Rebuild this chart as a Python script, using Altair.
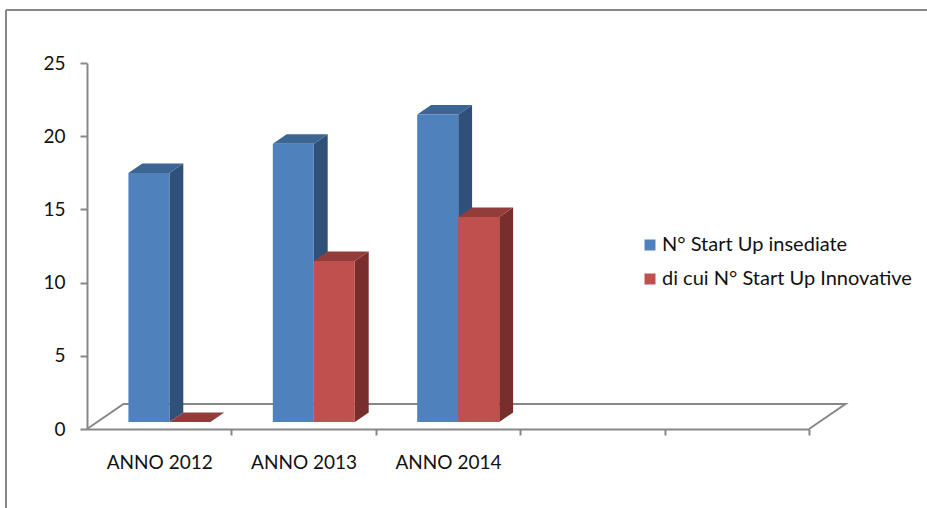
import json

import altair as alt
import pandas as pd

# ---- data -------------------------------------------------------------
categories = ["ANNO 2012", "ANNO 2013", "ANNO 2014"]
series = ["N° Start Up insediate", "\u00a0di cui N° Start Up Innovative"]
insediate = [17, 19, 21]
innovative = [0, 11, 14]
y_ticks = [0, 5, 10, 15, 20, 25]
n_slots = 5  # category slots on the floor (the last two are empty)

# ---- layout -----------------------------------------------------------
CANVAS_W, CANVAS_H = 927, 508
LEFT, TOP = 87, 63
W, H = 722, 366
Y_MAX = 25
PX_X = W / n_slots  # pixels per category slot
PX_Y = H / Y_MAX    # pixels per value unit

GRAY = "#878787"
FONT = "Lato"
TEXT = "#111111"
front_colors = ["#4F81BD", "#C0504D"]
side_colors = ["#2F5078", "#772E2C"]
top_colors = ["#3C6594", "#933D3A"]

# oblique projection of the floor (pixels) and of the bars inside it
DEPTH_DX, DEPTH_DY = 36.5, 25.0
BAR_FRONT = 0.28   # depth fraction where the bars' front faces sit
BAR_DEPTH = 0.38   # depth fraction taken by the bars
BAR_W = 0.284      # slot fraction per bar
GAP = 0.216        # empty slot fraction left of the pair

fx, fy = BAR_FRONT * DEPTH_DX / PX_X, BAR_FRONT * DEPTH_DY / PX_Y
sx, sy = BAR_DEPTH * DEPTH_DX / PX_X, BAR_DEPTH * DEPTH_DY / PX_Y
floor_dx, floor_dy = DEPTH_DX / PX_X, DEPTH_DY / PX_Y

rows = []
for si, (name, vals) in enumerate(zip(series, [insediate, innovative])):
    for ci, v in enumerate(vals):
        xl = ci + GAP + si * BAR_W + fx
        xr = xl + BAR_W
        y0, y1 = fy, fy + v
        fid = f"{si}-{ci}"
        rows.append(dict(series=name, s=si, face="front", fid=fid, x=xl, x2=xr, y=y1, y2=y0))
        rows.append(dict(series=name, s=si, face="side", fid=fid, x=xr, x2=None, y=y1, y2=y0))
        rows.append(dict(series=name, s=si, face="side", fid=fid, x=xr + sx, x2=None, y=y1 + sy, y2=y0 + sy))
        rows.append(dict(series=name, s=si, face="top", fid=fid, x=xl, x2=xr, y=y1, y2=None))
        rows.append(dict(series=name, s=si, face="top", fid=fid, x=xl + sx, x2=xr + sx, y=y1 + sy, y2=None))
bars = pd.DataFrame(rows)

floor = pd.DataFrame({
    "x": [0, floor_dx, n_slots + floor_dx, n_slots],
    "y": [0, floor_dy, floor_dy, 0],
    "o": [0, 1, 2, 3],
})

# ---- scales and axes --------------------------------------------------
x_scale = alt.Scale(domain=[0, n_slots], nice=False, zero=False)
y_scale = alt.Scale(domain=[0, Y_MAX], nice=False)

labels_js = json.dumps(categories + [""] * (n_slots - len(categories)))
x_axis = alt.Axis(
    values=list(range(1, n_slots + 1)),
    labelExpr=f"{labels_js}[datum.value - 1]",
    labelOffset=-PX_X / 2,
    labelFlush=False, labelOverlap=False, labelBound=False,
    tickSize=6, tickWidth=2, tickColor=GRAY,
    domainColor=GRAY, domainWidth=2,
    labelPadding=18, labelFontSize=19, labelColor=TEXT, labelFont=FONT,
    grid=False, title=None,
)
y_axis = alt.Axis(
    values=y_ticks,
    tickSize=7, tickWidth=2, tickColor=GRAY,
    domainColor=GRAY, domainWidth=2,
    labelPadding=15, labelFontSize=19, labelColor=TEXT, labelFont=FONT,
    grid=False, title=None,
)

X = alt.X("x:Q", scale=x_scale, axis=x_axis)
Y = alt.Y("y:Q", scale=y_scale, axis=y_axis)

base = alt.Chart(bars)

# floor outline: front edge is the x axis, this draws the two sides and the back
floor_layer = alt.Chart(floor).mark_line(color=GRAY, strokeWidth=2).encode(
    x=X, y=Y, order="o:Q"
)

layers = [floor_layer]
for si in range(len(series)):
    part = base.transform_filter(alt.datum.s == si)
    side = part.transform_filter(alt.datum.face == "side").mark_area(
        orient="vertical", color=side_colors[si]
    ).encode(x=X, y=Y, y2="y2:Q", detail="fid:N")
    top = part.transform_filter(alt.datum.face == "top").mark_area(
        orient="horizontal", color=top_colors[si]
    ).encode(y=Y, x=X, x2="x2:Q", detail="fid:N")
    front = part.transform_filter(alt.datum.face == "front").mark_rect().encode(
        x=X, x2="x2:Q", y=Y, y2="y2:Q",
        color=alt.Color(
            "series:N",
            scale=alt.Scale(domain=series, range=front_colors),
            legend=alt.Legend(title=None),
        ),
    )
    layers += [side, top, front]

# chart border (top and left edges)
edge = pd.DataFrame({"k": [0]})
frame_top = alt.Chart(edge).mark_rule(color=GRAY, strokeWidth=2).encode(
    x=alt.value(6 - LEFT), x2=alt.value(CANVAS_W - LEFT + 5), y=alt.value(10 - TOP)
)
frame_left = alt.Chart(edge).mark_rule(color=GRAY, strokeWidth=2).encode(
    x=alt.value(6 - LEFT), y=alt.value(10 - TOP), y2=alt.value(CANVAS_H - TOP + 5)
)
layers += [frame_top, frame_left]

chart = (
    alt.layer(*layers)
    .properties(
        width=W, height=H,
        autosize=alt.AutoSizeParams(type="none"),
        padding={"left": LEFT, "top": TOP, "right": CANVAS_W - LEFT - W, "bottom": CANVAS_H - TOP - H},
        background="white",
    )
    .configure_view(stroke=None)
    .configure_legend(
        orient="none", legendX=553, legendY=172, padding=0,
        symbolType="square", symbolSize=121, symbolStrokeWidth=0,
        labelFontSize=20, labelFont=FONT, labelColor=TEXT,
        labelOffset=2, labelLimit=400, rowPadding=14,
    )
)

chart.save("out.html", embed_options={"renderer": "svg", "actions": False})
